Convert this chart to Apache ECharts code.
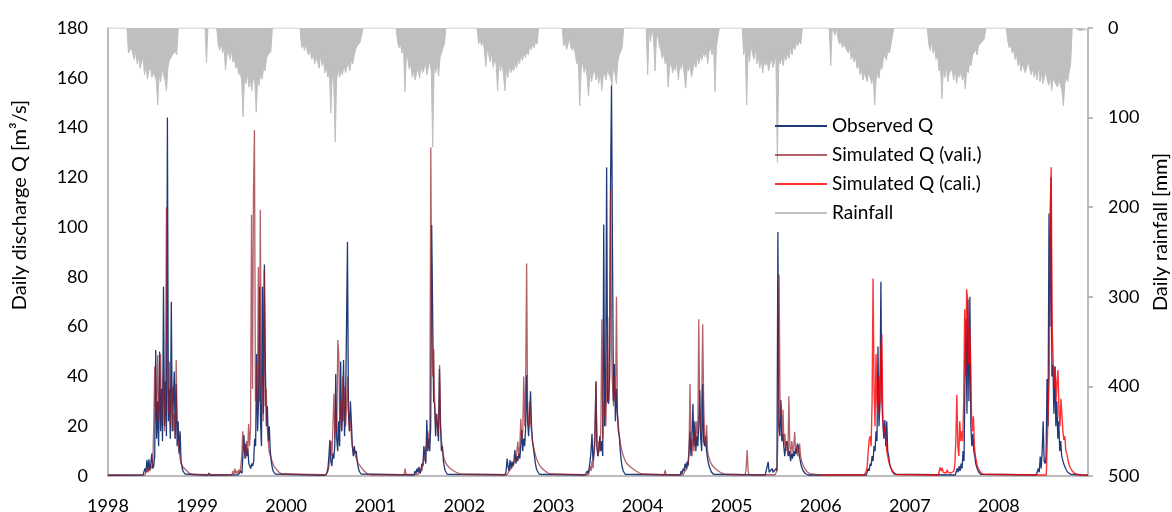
<!DOCTYPE html>
<html><head><meta charset="utf-8">
<script src="https://cdn.jsdelivr.net/npm/echarts@6/dist/echarts.min.js"></script>
<style>html,body{margin:0;padding:0;background:#fff}#c{width:1172px;height:512px}</style>
</head><body><div id="c"></div>
<script>
// ---- axis ticks ----
const yearTicks = [1998,1999,2000,2001,2002,2003,2004,2005,2006,2007,2008];
const qTicks = [0,20,40,60,80,100,120,140,160,180];
const rainTicks = [0,100,200,300,400,500];

// sampling interval of the listed values (days)
const Q_STEP_DAYS = 4;
const RAIN_STEP_DAYS = 6;

// ---- Observed Q [m3/s] : [start date (decimal year), values] ----
const obs_start = [1998.000, [0.3]];
const obs_1998 = [1998.393, [0.4,1,3,1.5,6.4,2,6.7,2.5,5,9,3,4,8,50.6,15,30,12,50,18,35,14,76,20,38,16,144,22,35,15,70,18,30,42,15,37,12,22,9,18,6,3.5,2,1.2,0.8,0.6,0.5]];
const obs_1999a = [1999.123, [0.3,1.2,0.3]];
const obs_1999 = [1999.460, [0.5,1.2,0.6,2,1,9,16.5,7,13,8,11,5,4,3,5,4,6,15,12,49,18,30,76,22,12,76,25,85,43,20,28,14,20,10,6,3.5,2,1.2,0.8,0.5,0.4]];
const obs_2000 = [2000.414, [0.3,0.5,1,0.5,1.5,3,8,14.5,6,4,9,7,12,41,15,10,22,12,46,18,25,46.6,16,28,58,94,26,18,30,22,12,8,12,9,10,6,3.5,2,1.2,0.8,0.6,0.4]];
const obs_2001 = [2001.436, [0.4,2,1,3,1.5,3.7,1,2,5,4,12,12,5,22.5,10,15,10,20,100.8,65,30,29,16,25,20,14,43,21,10,12,6,3.5,2,1.2,0.7,0.5,0.4]];
const obs_2002 = [2002.458, [0.5,2,7,3.7,2,6.4,3,5.8,4,6,10.4,5,8,6,9,7,12,18.5,10,15,12,20,40.6,22,16,24,34,20,14,14,8,5,3,2,1.2,0.7,0.4]];
const obs_2003 = [2003.356, [0.4,1,2,1,3,5.8,10,17,6,9,14,38,12,8,10,16,10,14,8,101,20,35,124,30,29,40,117,157,91,30,45,22,35,25,18,16,10,6,3.5,2,1.2,0.7,0.4]];
const obs_2004 = [2004.423, [0.4,2,1,3,2,5,3,5.8,4,10,18,8,15,29,12,22,10,16,12,20,34.5,15,10,37,14,12,16,10,7,5,3.5,2.5,1.6,1,0.7,0.5,0.4]];
const obs_2005 = [2005.377, [0.4,1,0.6,5.7,1.5,2,1,3,1.5,2,1,3,2,98,20,16,30.5,14,17,12,8,12,14,13,8,10,6,9,7,10,8,11,9,13,12,8,6,4,3,2,1.4,1,0.7,0.5,0.4]];
const obs_2006 = [2006.511, [0.4,1,3,2,5,4,8,6,12,10,18,14,52,20,28,78,30,22,15,22.5,12,22,10,8,5,3.5,2.5,1.6,1,0.7,0.5,0.4]];
const obs_2007 = [2007.510, [0.4,1,3,1.5,4,2,5,3,10,6,40,63,25,71,30,72,20,12,17,10,8,5,3.5,2.5,1.6,1,0.7,0.5,0.4]];
const obs_2008 = [2008.420, [0.4,1,3,1.5,7.8,3,10,22,6,5,8,39,20,105.5,60,120,40,44.6,25,44,20,30,15,22,10,14,8,7.8,5,4,3,2.2,1.6,1.2,0.9,0.7,0.5,0.4]];
const obs_end = [2009.000, [0.3]];

// ---- Simulated Q (validation) ----
const vali_start = [1998.000, [0.4]];
const vali_1998 = [1998.415, [0.5,1,2.4,1.5,3,2,4,3,6,20,44,25,30,48.6,22,35,49,20,30,42,18,28,108,40,25,46,20,30,36,18,25,15,46.6,20,14,10,7,5,4.2,3.6,3.2,2.8,2.4,2,1.6,1.3,1,0.8,0.6,0.5]];
const vali_1999 = [1999.392, [0.5,2,0.8,3,1,2,1,2.5,1.5,4,8,18,10,12,7,14,9,21,12,19,105,35,115,139,30,45,25,84,30,107,35,40,22,83,28,35,20,15,10,8.5,7.8,6,5,4,3.5,3.2,2.5,2,1.6,1.3,1,0.8,0.6,0.5]];
const vali_2000 = [2000.448, [0.5,1,2,4,10,14,8,20,33,15,25,18,54.6,49,20,30,18,40,22,36,20,28,40,25,18,22,15,12,10,9,8,7,6,5,4.5,4,3.4,3,2.5,2,1.6,1.3,1,0.8,0.6,0.5]];
const vali_2001a = [2001.324, [0.5,3,0.6]];
const vali_2001 = [2001.481, [0.6,1.5,1,3,2,5,8,6,12,10,18,12,20,132,60,40,51,29,20,25,16,20,44.6,20,14,10,8,6.5,5.5,4.8,4.2,3.8,3.4,3,2.7,2.4,2.1,1.9,1.7,1.5,1.3,1.1,1,0.9,0.8,0.7,0.6,0.5]];
const vali_2002 = [2002.480, [0.5,1,2,1.5,3,2.5,4,5,7,6,10,13.8,8,12,23,15,18,40,20,38,85.4,25,20,30,22,18,14,12,10,8.5,7,6,5.2,4.5,3.8,3.4,3,2.7,2.3,2,1.7,1.4,1.2,1,0.8,0.6,0.5]];
const vali_2003 = [2003.390, [0.5,1.5,4,2,6,3,10,20,38,12,8,14,10,20,63,15,30,25,20,35,64,30,40,115,50,35,28,40,30,72,25,20,16,13,11,9.5,8,7,6,5.3,4.8,4.4,4,3.7,3.4,3.1,2.8,2.5,2.2,2,1.8,1.5,1.3,1.1,1,0.8,0.6,0.5]];
const vali_2004a = [2004.243, [0.5,2.4,0.5]];
const vali_2004 = [2004.456, [0.5,1,2,1.5,3,5,10,37,12,8,15,10,18,14,22,16,63,25,18,30,61,30,15,12,20.5,10,8,6.5,5.5,4.8,4.2,3.7,3.3,3,2.6,2.3,2,1.8,1.5,1.3,1.1,1,0.8,0.7,0.6,0.5]];
const vali_2005a = [2005.152, [0.5,3,10.4,2,0.5]];
const vali_2005 = [2005.489, [0.5,1.5,3,20,81,25,29,15,26.6,12,17,10,14,8,32,12,9,14,10,12,17.8,9,12,8,11,13,8,6,5,4,3.2,2.5,2,1.6,1.3,1,0.8,0.6,0.5]];
const vali_end = [2006.000, [0.4]];

// ---- Simulated Q (calibration) ----
const cali_start = [2006.000, [0.4]];
const cali_2006 = [2006.489, [0.4,1,2,4,9.8,14.5,16,12,30,79.4,35,20,49,30,25,40,29,50,57,22,17,20,14,10,8,6,4.5,3.5,2.6,2,1.5,1.1,0.8,0.6,0.5]];
const cali_2007 = [2007.320, [0.4,1,3.5,2,3.2,1.5,1,2,1.2,2.5,1.5,1,2,1.2,0.8,1,2,5,15,32.6,12,8,22,14,18,14,30,67,40,75,71,45,60,49,25,18,24,12,8,6,4,3,2.2,1.6,1.2,0.9,0.7,0.5]];
const cali_2008 = [2008.532, [0.4,0.5,0.6,40,107,124,60,46.6,35,44,30,38,42.6,25,20,31,30.5,18,14.5,16,10,9,7,5,3.8,3,2.3,1.8,1.4,1.2,1,0.8,0.6,0.5,0.4]];
const cali_end = [2009.000, [0.3]];

// ---- Rainfall [mm] ----
const rain_start = [1998.000, [0]];
const rain_1998 = [1998.213, [0,28,30,22,29,35,26,40,31,45,38,33,52,41,57,47,44,55,50,48,58,86,52,60,45,53,58,70,44,36,38,30,32,26,30,0]];
const rain_1999 = [1999.089, [0,39,0,0,0,0,0,0,0,18,25,15,28,22,47,30,26,35,24,38,33,45,40,52,48,58,99,55,62,50,66,58,70,54,60,94,56,64,50,57,45,48,34,30,28,26,0]];
const rain_2000 = [2000.156, [0,22,18,25,16,27,30,24,35,28,40,33,38,45,30,42,36,50,44,55,48,95,52,60,127,58,45,55,48,52,40,50,44,38,48,36,40,30,24,20,22,16,18,0]];
const rain_2001 = [2001.234, [0,15,22,18,28,20,71,30,35,46,40,55,48,58,50,45,56,40,50,46,38,52,44,36,48,133,40,50,38,54,33,28,22,18,0]];
const rain_2002 = [2002.143, [0,18,12,20,14,25,43,22,30,38,28,44,35,40,70,36,48,38,52,70,46,55,42,50,44,48,38,45,35,40,30,36,28,33,25,30,20,24,18,22,15,18,0]];
const rain_2003 = [2003.098, [0,20,15,24,18,12,22,25,20,30,40,35,87,45,38,50,42,55,76,48,60,52,45,58,50,62,48,70,55,50,58,45,52,55,64,44,50,62,38,30,28,22,0]];
const rain_2004 = [2004.041, [0,52,0,15,0,10,48,12,8,20,25,34,28,40,36,66,44,38,50,42,48,36,58,40,46,35,52,67,44,48,40,55,46,38,44,32,40,30,36,28,32,24,40,26,22,30,18,71,20,10,0]];
const rain_2005 = [2005.119, [0,30,18,86,25,38,20,28,35,22,40,30,45,34,50,38,42,36,48,40,34,44,38,30,150,36,40,32,42,30,36,28,34,22,30,20,24,16,20,14,18,0]];
const rain_2006 = [2006.096, [0,42,0,0,8,0,12,18,15,22,18,20,25,28,22,35,30,38,32,45,40,52,45,58,50,55,60,48,56,62,52,86,58,50,56,42,46,34,30,36,25,28,20,22,0]];
const rain_2007 = [2007.196, [0,18,25,15,28,22,35,30,48,40,79,45,55,42,60,50,52,46,58,44,62,50,55,48,58,52,68,45,50,38,42,30,28,24,30,20,22,16,18,12,0]];
const rain_2008 = [2008.083, [0,15,22,18,28,24,35,30,42,36,48,40,38,50,44,36,46,52,45,55,48,58,42,60,50,62,55,48,58,64,52,70,56,60,62,66,58,64,70,87,62,55,60,48,40,0,0,0,0,2,0,3,1,2,0,2]];
const rain_end = [2009.000, [0]];

function build(segs, stepDays) {
  const out = [];
  segs.forEach(([start, vals]) => {
    vals.forEach((v, i) => out.push([start + i * stepDays / 365.25, v]));
  });
  return out;
}

const obsData = build([obs_start, obs_1998, obs_1999a, obs_1999, obs_2000, obs_2001, obs_2002, obs_2003, obs_2004, obs_2005, obs_2006, obs_2007, obs_2008, obs_end], Q_STEP_DAYS);
const valiData = build([vali_start, vali_1998, vali_1999, vali_2000, vali_2001a, vali_2001, vali_2002, vali_2003, vali_2004a, vali_2004, vali_2005a, vali_2005, vali_end], Q_STEP_DAYS);
const caliData = build([cali_start, cali_2006, cali_2007, cali_2008, cali_end], Q_STEP_DAYS);
const rainData = build([rain_start, rain_1998, rain_1999, rain_2000, rain_2001, rain_2002, rain_2003, rain_2004, rain_2005, rain_2006, rain_2007, rain_2008, rain_end], RAIN_STEP_DAYS);

const FONT = 'Lato';
const AXIS_GRAY = '#A6A6A6';

const chart = echarts.init(document.getElementById('c'), null, {renderer: 'canvas'});
chart.setOption({
  animation: false,
  backgroundColor: '#fff',
  textStyle: {fontFamily: FONT},
  grid: {left: 108, right: 84, top: 28, bottom: 36, containLabel: false, outerBoundsMode: 'none'},
  legend: {
    orient: 'vertical', left: 769, top: 111,
    itemWidth: 52, itemHeight: 14, itemGap: 9,
    itemStyle: {opacity: 0, borderWidth: 0},
    textStyle: {fontFamily: FONT, fontSize: 19, lineHeight: 20, color: '#000'},
    data: ['Observed Q', 'Simulated Q (vali.)', 'Simulated Q (cali.)', 'Rainfall']
  },
  xAxis: {
    type: 'value', min: yearTicks[0], max: yearTicks[yearTicks.length - 1] + 1, interval: 1,
    axisLine: {show: true, onZero: false, lineStyle: {color: AXIS_GRAY, width: 1.5}},
    axisTick: {show: false},
    splitLine: {show: false},
    axisLabel: {
      margin: 21, fontSize: 18, color: '#000', fontFamily: FONT, showMaxLabel: false,
      formatter: v => yearTicks.includes(v) ? String(v) : ''
    }
  },
  yAxis: [
    {
      type: 'value', min: qTicks[0], max: qTicks[qTicks.length - 1], interval: 20,
      name: 'Daily discharge Q [m³/s]', nameLocation: 'middle', nameRotate: 90, nameGap: 78,
      nameTextStyle: {fontSize: 20, color: '#000', fontFamily: FONT, padding: [0, 0, 0, 94]},
      axisLine: {show: true, onZero: false, lineStyle: {color: AXIS_GRAY, width: 1.5}},
      axisTick: {show: false},
      splitLine: {show: false},
      axisLabel: {margin: 20, fontSize: 18, color: '#000', fontFamily: FONT}
    },
    {
      type: 'value', inverse: true, position: 'right',
      min: rainTicks[0], max: rainTicks[rainTicks.length - 1], interval: 100,
      name: 'Daily rainfall [mm]', nameLocation: 'middle', nameRotate: 90, nameGap: 62,
      nameTextStyle: {fontSize: 20, color: '#000', fontFamily: FONT, padding: [0, 0, 0, 40]},
      axisLine: {show: true, onZero: false, lineStyle: {color: AXIS_GRAY, width: 1.5}},
      axisTick: {show: true, inside: false, length: 5, lineStyle: {color: AXIS_GRAY, width: 1.5}},
      splitLine: {show: false},
      axisLabel: {margin: 20, fontSize: 18, color: '#000', fontFamily: FONT}
    }
  ],
  series: [
    {
      name: 'Observed Q', type: 'line', yAxisIndex: 0, data: obsData,
      showSymbol: false, symbol: 'none',
      lineStyle: {color: '#1F3A7A', width: 1.3}, itemStyle: {color: '#1F3A7A'}
    },
    {
      name: 'Simulated Q (vali.)', type: 'line', yAxisIndex: 0, data: valiData,
      showSymbol: false, symbol: 'none',
      lineStyle: {color: 'rgba(150,30,40,0.7)', width: 1.3}, itemStyle: {color: 'rgba(150,30,40,0.7)'}
    },
    {
      name: 'Simulated Q (cali.)', type: 'line', yAxisIndex: 0, data: caliData,
      showSymbol: false, symbol: 'none',
      lineStyle: {color: 'rgba(255,0,0,0.8)', width: 1.4}, itemStyle: {color: 'rgba(255,0,0,0.8)'}
    },
    {
      name: 'Rainfall', type: 'line', yAxisIndex: 1, data: rainData,
      showSymbol: false, symbol: 'none',
      lineStyle: {color: '#BFBFBF', width: 1}, itemStyle: {color: '#BFBFBF'},
      areaStyle: {color: '#BFBFBF', opacity: 1}
    }
  ]
});
</script>
</body></html>
